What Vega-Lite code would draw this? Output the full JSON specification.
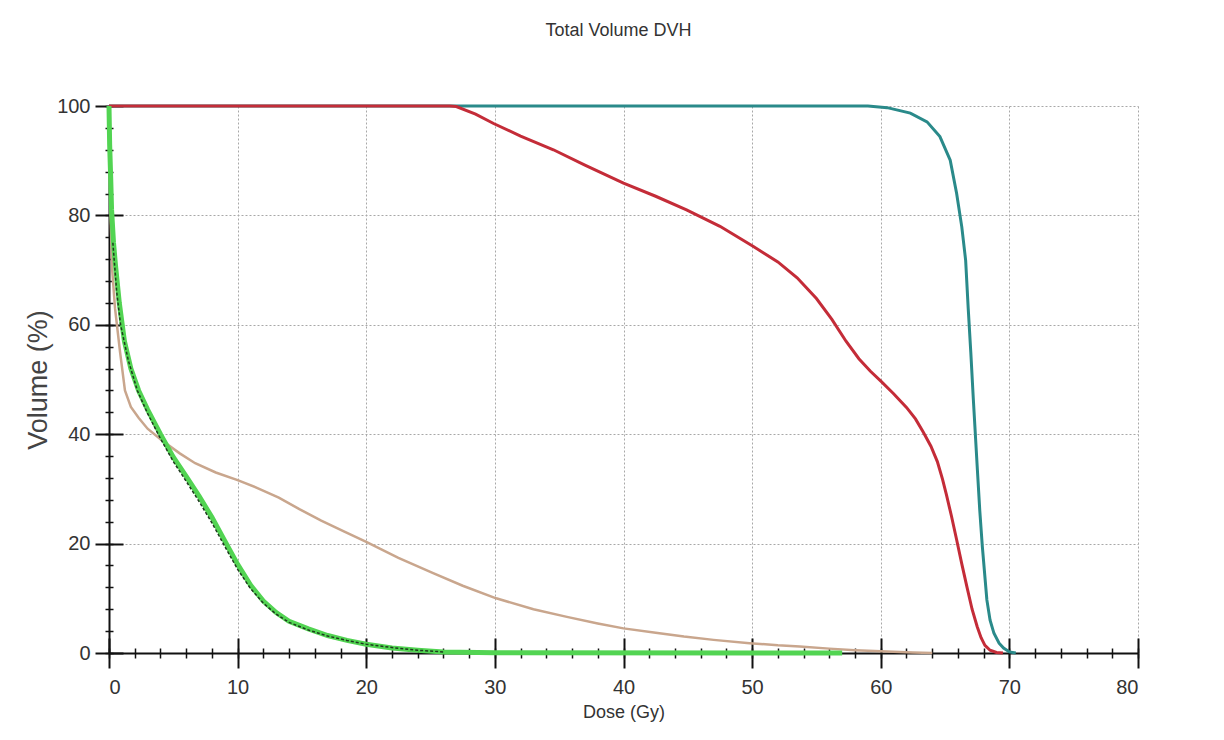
{
  "$schema": "https://vega.github.io/schema/vega-lite/v6.json",
  "width": 1029,
  "height": 547,
  "autosize": {"type": "none"},
  "padding": {"left": 109, "top": 106, "right": 86, "bottom": 87},
  "background": "white",
  "title": {"text": "Total Volume DVH", "font": "Liberation Sans", "fontSize": 18, "fontWeight": "normal", "color": "#333333", "anchor": "middle", "offset": 56, "dx": -5},
  "config": {"view": {"stroke": null}},
  "datasets": {
    "dvh": [
      {"series": "Teal", "dose": 0, "volume": 100},
      {"series": "Teal", "dose": 59, "volume": 100},
      {"series": "Teal", "dose": 60.5, "volume": 99.7},
      {"series": "Teal", "dose": 62.3, "volume": 98.7},
      {"series": "Teal", "dose": 63.6, "volume": 97.1},
      {"series": "Teal", "dose": 64.6, "volume": 94.4},
      {"series": "Teal", "dose": 65.4, "volume": 90.1},
      {"series": "Teal", "dose": 65.9, "volume": 84},
      {"series": "Teal", "dose": 66.3, "volume": 77.9},
      {"series": "Teal", "dose": 66.6, "volume": 71.8},
      {"series": "Teal", "dose": 66.8, "volume": 63},
      {"series": "Teal", "dose": 67.0, "volume": 55},
      {"series": "Teal", "dose": 67.2, "volume": 46.3},
      {"series": "Teal", "dose": 67.5, "volume": 34},
      {"series": "Teal", "dose": 67.7, "volume": 26},
      {"series": "Teal", "dose": 67.9, "volume": 19.4},
      {"series": "Teal", "dose": 68.25, "volume": 9.7},
      {"series": "Teal", "dose": 68.5, "volume": 6},
      {"series": "Teal", "dose": 68.8, "volume": 3.6},
      {"series": "Teal", "dose": 69.2, "volume": 1.8},
      {"series": "Teal", "dose": 69.55, "volume": 0.9},
      {"series": "Teal", "dose": 70, "volume": 0.2},
      {"series": "Teal", "dose": 70.5, "volume": 0},

      {"series": "Red", "dose": 0, "volume": 100},
      {"series": "Red", "dose": 26.5, "volume": 100},
      {"series": "Red", "dose": 27, "volume": 99.9},
      {"series": "Red", "dose": 28.5, "volume": 98.5},
      {"series": "Red", "dose": 29.9, "volume": 96.8},
      {"series": "Red", "dose": 32, "volume": 94.5},
      {"series": "Red", "dose": 34.55, "volume": 92},
      {"series": "Red", "dose": 37, "volume": 89.2},
      {"series": "Red", "dose": 40, "volume": 85.9},
      {"series": "Red", "dose": 42.5, "volume": 83.5},
      {"series": "Red", "dose": 44.9, "volume": 81},
      {"series": "Red", "dose": 47.5, "volume": 78},
      {"series": "Red", "dose": 50.1, "volume": 74.3},
      {"series": "Red", "dose": 52, "volume": 71.5},
      {"series": "Red", "dose": 53.5, "volume": 68.6},
      {"series": "Red", "dose": 55, "volume": 64.8},
      {"series": "Red", "dose": 56.2, "volume": 61},
      {"series": "Red", "dose": 57.3, "volume": 57},
      {"series": "Red", "dose": 58.3, "volume": 53.8},
      {"series": "Red", "dose": 59.2, "volume": 51.5},
      {"series": "Red", "dose": 60.05, "volume": 49.6},
      {"series": "Red", "dose": 61, "volume": 47.4},
      {"series": "Red", "dose": 62, "volume": 44.9},
      {"series": "Red", "dose": 62.7, "volume": 42.8},
      {"series": "Red", "dose": 63.3, "volume": 40.4},
      {"series": "Red", "dose": 63.9, "volume": 37.8},
      {"series": "Red", "dose": 64.4, "volume": 35},
      {"series": "Red", "dose": 64.8, "volume": 31.8},
      {"series": "Red", "dose": 65.1, "volume": 29},
      {"series": "Red", "dose": 65.5, "volume": 25},
      {"series": "Red", "dose": 65.9, "volume": 20.7},
      {"series": "Red", "dose": 66.3, "volume": 16.3},
      {"series": "Red", "dose": 66.7, "volume": 12.1},
      {"series": "Red", "dose": 67.1, "volume": 8},
      {"series": "Red", "dose": 67.5, "volume": 4.8},
      {"series": "Red", "dose": 67.8, "volume": 2.8},
      {"series": "Red", "dose": 68.1, "volume": 1.4},
      {"series": "Red", "dose": 68.5, "volume": 0.5},
      {"series": "Red", "dose": 69, "volume": 0.1},
      {"series": "Red", "dose": 69.5, "volume": 0},

      {"series": "Tan", "dose": 0, "volume": 100},
      {"series": "Tan", "dose": 0.05, "volume": 90},
      {"series": "Tan", "dose": 0.12, "volume": 80},
      {"series": "Tan", "dose": 0.25, "volume": 70},
      {"series": "Tan", "dose": 0.47, "volume": 63},
      {"series": "Tan", "dose": 0.86, "volume": 55},
      {"series": "Tan", "dose": 1.24, "volume": 48},
      {"series": "Tan", "dose": 1.7, "volume": 45},
      {"series": "Tan", "dose": 2.3, "volume": 43},
      {"series": "Tan", "dose": 3, "volume": 41},
      {"series": "Tan", "dose": 4.1, "volume": 38.9},
      {"series": "Tan", "dose": 5.5, "volume": 36.5},
      {"series": "Tan", "dose": 6.7, "volume": 34.7},
      {"series": "Tan", "dose": 8.3, "volume": 33},
      {"series": "Tan", "dose": 10, "volume": 31.6},
      {"series": "Tan", "dose": 11.5, "volume": 30.2},
      {"series": "Tan", "dose": 13.2, "volume": 28.4},
      {"series": "Tan", "dose": 14.8, "volume": 26.3},
      {"series": "Tan", "dose": 16.5, "volume": 24.2},
      {"series": "Tan", "dose": 18.3, "volume": 22.2},
      {"series": "Tan", "dose": 20, "volume": 20.3},
      {"series": "Tan", "dose": 22.5, "volume": 17.4},
      {"series": "Tan", "dose": 25.2, "volume": 14.6},
      {"series": "Tan", "dose": 27.5, "volume": 12.3},
      {"series": "Tan", "dose": 30.1, "volume": 10},
      {"series": "Tan", "dose": 33, "volume": 8},
      {"series": "Tan", "dose": 35.6, "volume": 6.6},
      {"series": "Tan", "dose": 38, "volume": 5.4},
      {"series": "Tan", "dose": 40, "volume": 4.5},
      {"series": "Tan", "dose": 42.5, "volume": 3.7},
      {"series": "Tan", "dose": 44.7, "volume": 3},
      {"series": "Tan", "dose": 47, "volume": 2.4},
      {"series": "Tan", "dose": 49.8, "volume": 1.8},
      {"series": "Tan", "dose": 52, "volume": 1.4},
      {"series": "Tan", "dose": 53.7, "volume": 1.2},
      {"series": "Tan", "dose": 56, "volume": 0.8},
      {"series": "Tan", "dose": 58, "volume": 0.5},
      {"series": "Tan", "dose": 60, "volume": 0.3},
      {"series": "Tan", "dose": 62.5, "volume": 0.1},
      {"series": "Tan", "dose": 64, "volume": 0},

      {"series": "Green", "dose": 0, "volume": 100},
      {"series": "Green", "dose": 0.05, "volume": 93},
      {"series": "Green", "dose": 0.13, "volume": 87},
      {"series": "Green", "dose": 0.2, "volume": 81},
      {"series": "Green", "dose": 0.35, "volume": 75},
      {"series": "Green", "dose": 0.5, "volume": 71},
      {"series": "Green", "dose": 0.8, "volume": 64},
      {"series": "Green", "dose": 1.2, "volume": 57},
      {"series": "Green", "dose": 1.7, "volume": 52},
      {"series": "Green", "dose": 2.3, "volume": 48},
      {"series": "Green", "dose": 3, "volume": 44.5},
      {"series": "Green", "dose": 4, "volume": 40},
      {"series": "Green", "dose": 5, "volume": 35.8},
      {"series": "Green", "dose": 6, "volume": 32.3},
      {"series": "Green", "dose": 7, "volume": 28.7},
      {"series": "Green", "dose": 8, "volume": 24.8},
      {"series": "Green", "dose": 9, "volume": 20.5},
      {"series": "Green", "dose": 10, "volume": 16.2},
      {"series": "Green", "dose": 11, "volume": 12.4},
      {"series": "Green", "dose": 12, "volume": 9.5},
      {"series": "Green", "dose": 13, "volume": 7.4},
      {"series": "Green", "dose": 14, "volume": 5.8},
      {"series": "Green", "dose": 15.5, "volume": 4.4},
      {"series": "Green", "dose": 17, "volume": 3.2},
      {"series": "Green", "dose": 18.5, "volume": 2.3},
      {"series": "Green", "dose": 20, "volume": 1.6},
      {"series": "Green", "dose": 22, "volume": 0.9},
      {"series": "Green", "dose": 24, "volume": 0.5},
      {"series": "Green", "dose": 26, "volume": 0.2},
      {"series": "Green", "dose": 30, "volume": 0.05},
      {"series": "Green", "dose": 57, "volume": 0},

      {"series": "Black", "dose": 0.3, "volume": 75},
      {"series": "Black", "dose": 0.6, "volume": 66},
      {"series": "Black", "dose": 0.9, "volume": 60},
      {"series": "Black", "dose": 1.5, "volume": 53.5},
      {"series": "Black", "dose": 2.2, "volume": 48},
      {"series": "Black", "dose": 3, "volume": 43.8},
      {"series": "Black", "dose": 4, "volume": 39.2},
      {"series": "Black", "dose": 5, "volume": 35},
      {"series": "Black", "dose": 6, "volume": 31.4},
      {"series": "Black", "dose": 7, "volume": 27.7},
      {"series": "Black", "dose": 8, "volume": 23.8},
      {"series": "Black", "dose": 9, "volume": 19.5},
      {"series": "Black", "dose": 10, "volume": 15.3},
      {"series": "Black", "dose": 11, "volume": 11.8},
      {"series": "Black", "dose": 12, "volume": 9.1},
      {"series": "Black", "dose": 13, "volume": 7.1},
      {"series": "Black", "dose": 14, "volume": 5.6},
      {"series": "Black", "dose": 15.5, "volume": 4.2},
      {"series": "Black", "dose": 17, "volume": 3.1},
      {"series": "Black", "dose": 18.5, "volume": 2.3},
      {"series": "Black", "dose": 20, "volume": 1.6},
      {"series": "Black", "dose": 22, "volume": 1},
      {"series": "Black", "dose": 24, "volume": 0.5},
      {"series": "Black", "dose": 26, "volume": 0.2}
    ]
  },
  "data": {"name": "dvh"},
  "resolve": {"scale": {"x": "shared", "y": "shared"}, "axis": {"x": "independent", "y": "independent"}},
  "layer": [
    {
      "transform": [{"filter": "datum.series === 'Teal'"}],
      "mark": {"type": "line", "color": "#2a8a8a", "strokeWidth": 3},
      "encoding": {
        "x": {"field": "dose", "type": "quantitative", "scale": {"domain": [0, 80], "nice": false},
          "axis": {"orient": "bottom", "values": [0, 10, 20, 30, 40, 50, 60, 70, 80], "ticks": false, "grid": true, "gridColor": "#a8a8a8", "gridDash": [2, 2], "gridWidth": 1, "domain": true, "domainColor": "#111111", "domainWidth": 2, "labelFont": "Liberation Sans", "labelFontSize": 20, "labelColor": "#333333", "labelPadding": 24, "title": "Dose (Gy)", "titleFont": "Liberation Sans", "titleFontSize": 18, "titleFontWeight": "normal", "titleColor": "#333333", "titlePadding": 6}},
        "y": {"field": "volume", "type": "quantitative", "scale": {"domain": [0, 100], "nice": false},
          "axis": {"orient": "left", "values": [0, 20, 40, 60, 80, 100], "ticks": false, "grid": true, "gridColor": "#a8a8a8", "gridDash": [2, 2], "gridWidth": 1, "domain": true, "domainColor": "#111111", "domainWidth": 2, "labelFont": "Liberation Sans", "labelFontSize": 20, "labelColor": "#333333", "labelPadding": 19, "title": "Volume (%)", "titleFont": "Liberation Sans", "titleFontSize": 27, "titleFontWeight": "normal", "titleColor": "#444444", "titlePadding": 4}}
      }
    },
    {
      "transform": [{"filter": "datum.series === 'Red'"}],
      "mark": {"type": "line", "color": "#c42c38", "strokeWidth": 3},
      "encoding": {
        "x": {"field": "dose", "type": "quantitative", "scale": {"domain": [0, 80], "nice": false},
          "axis": {"orient": "bottom", "values": [0, 10, 20, 30, 40, 50, 60, 70, 80], "ticks": true, "tickSize": 15, "tickWidth": 2, "tickColor": "#111111", "grid": false, "domain": false, "labels": false, "title": null}},
        "y": {"field": "volume", "type": "quantitative", "scale": {"domain": [0, 100], "nice": false},
          "axis": {"orient": "left", "values": [0, 20, 40, 60, 80, 100], "ticks": true, "tickSize": 14, "tickWidth": 2, "tickColor": "#111111", "grid": false, "domain": false, "labels": false, "title": null}}
      }
    },
    {
      "transform": [{"filter": "datum.series === 'Tan'"}],
      "mark": {"type": "line", "color": "#c9a68d", "strokeWidth": 2.5},
      "encoding": {
        "x": {"field": "dose", "type": "quantitative", "scale": {"domain": [0, 80], "nice": false},
          "axis": {"orient": "bottom", "values": [0, 10, 20, 30, 40, 50, 60, 70, 80], "ticks": true, "tickSize": -15, "tickWidth": 2, "tickColor": "#111111", "grid": false, "domain": false, "labels": false, "title": null}},
        "y": {"field": "volume", "type": "quantitative", "scale": {"domain": [0, 100], "nice": false},
          "axis": {"orient": "left", "values": [0, 20, 40, 60, 80, 100], "ticks": true, "tickSize": -14, "tickWidth": 2, "tickColor": "#111111", "grid": false, "domain": false, "labels": false, "title": null}}
      }
    },
    {
      "transform": [{"filter": "datum.series === 'Green'"}],
      "mark": {"type": "line", "color": "#52d452", "strokeWidth": 5},
      "encoding": {
        "x": {"field": "dose", "type": "quantitative", "scale": {"domain": [0, 80], "nice": false},
          "axis": {"orient": "bottom", "values": [0, 2, 4, 6, 8, 10, 12, 14, 16, 18, 20, 22, 24, 26, 28, 30, 32, 34, 36, 38, 40, 42, 44, 46, 48, 50, 52, 54, 56, 58, 60, 62, 64, 66, 68, 70, 72, 74, 76, 78, 80], "ticks": true, "tickSize": 5, "tickWidth": 1.5, "tickColor": "#111111", "grid": false, "domain": false, "labels": false, "title": null}},
        "y": {"field": "volume", "type": "quantitative", "scale": {"domain": [0, 100], "nice": false},
          "axis": {"orient": "left", "values": [0, 4, 8, 12, 16, 20, 24, 28, 32, 36, 40, 44, 48, 52, 56, 60, 64, 68, 72, 76, 80, 84, 88, 92, 96, 100], "ticks": true, "tickSize": 4, "tickWidth": 1.5, "tickColor": "#111111", "grid": false, "domain": false, "labels": false, "title": null}}
      }
    },
    {
      "transform": [{"filter": "datum.series === 'Black'"}],
      "mark": {"type": "line", "color": "#1e3a1e", "strokeWidth": 1.5, "strokeDash": [3, 2]},
      "encoding": {
        "x": {"field": "dose", "type": "quantitative", "scale": {"domain": [0, 80], "nice": false},
          "axis": {"orient": "bottom", "values": [0, 2, 4, 6, 8, 10, 12, 14, 16, 18, 20, 22, 24, 26, 28, 30, 32, 34, 36, 38, 40, 42, 44, 46, 48, 50, 52, 54, 56, 58, 60, 62, 64, 66, 68, 70, 72, 74, 76, 78, 80], "ticks": true, "tickSize": -5, "tickWidth": 1.5, "tickColor": "#111111", "grid": false, "domain": false, "labels": false, "title": null}},
        "y": {"field": "volume", "type": "quantitative", "scale": {"domain": [0, 100], "nice": false},
          "axis": {"orient": "left", "values": [0, 4, 8, 12, 16, 20, 24, 28, 32, 36, 40, 44, 48, 52, 56, 60, 64, 68, 72, 76, 80, 84, 88, 92, 96, 100], "ticks": true, "tickSize": -4, "tickWidth": 1.5, "tickColor": "#111111", "grid": false, "domain": false, "labels": false, "title": null}}
      }
    }
  ]
}
